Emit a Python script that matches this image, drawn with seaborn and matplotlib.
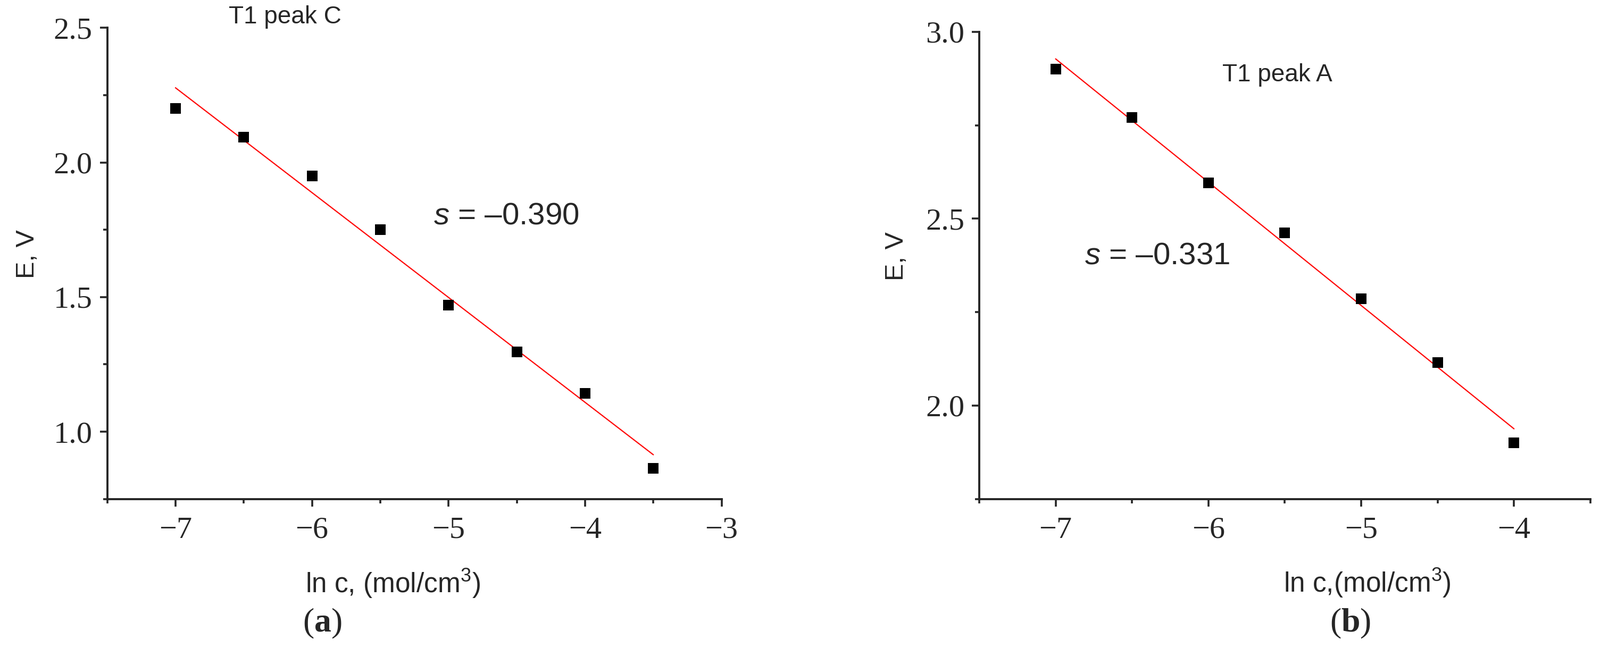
import matplotlib
matplotlib.use("Agg")
import matplotlib.pyplot as plt
from matplotlib.ticker import MultipleLocator, FormatStrFormatter
import pandas as pd
import seaborn as sns

# data
lnc_a = [-7.0, -6.5, -6.0, -5.5, -5.0, -4.5, -4.0, -3.5]
E_a = [2.20, 2.095, 1.95, 1.75, 1.47, 1.296, 1.142, 0.864]
lnc_b = [-7.0, -6.5, -6.0, -5.5, -5.0, -4.5, -4.0]
E_b = [2.90, 2.77, 2.595, 2.462, 2.286, 2.115, 1.90]
slope_a = "–0.390"
slope_b = "–0.331"

sns.set_style("ticks")
plt.rcParams["font.family"] = ["Liberation Sans", "DejaVu Sans"]
plt.rcParams["mathtext.fontset"] = "custom"
plt.rcParams["mathtext.rm"] = "Liberation Sans"
plt.rcParams["mathtext.it"] = "Liberation Sans:italic"
plt.rcParams["mathtext.bf"] = "Liberation Serif:bold"

fig = plt.figure(figsize=(15.04, 6.095), dpi=200)
ax_a = fig.add_axes([0.067, 0.230, 0.384, 0.727])
ax_b = fig.add_axes([0.612, 0.230, 0.382, 0.721])

df_a = pd.DataFrame({"lnc": lnc_a, "E": E_a})
df_b = pd.DataFrame({"lnc": lnc_b, "E": E_b})
serif = ["Liberation Serif", "DejaVu Serif"]


def panel(ax, df, xlim, ylim):
    sns.regplot(data=df, x="lnc", y="E", ax=ax, ci=None, marker="s",
                scatter_kws={"color": "black", "s": 50, "alpha": 1,
                             "linewidths": 0, "zorder": 3},
                line_kws={"color": "red", "lw": 0.8, "zorder": 2})
    ax.set_xlim(*xlim)
    ax.set_ylim(*ylim)
    ax.xaxis.set_major_locator(MultipleLocator(1))
    ax.xaxis.set_minor_locator(MultipleLocator(0.5))
    ax.yaxis.set_major_locator(MultipleLocator(0.5))
    ax.yaxis.set_minor_locator(MultipleLocator(0.25))
    ax.yaxis.set_major_formatter(FormatStrFormatter("%.1f"))
    sns.despine(ax=ax)
    for s in ["left", "bottom"]:
        ax.spines[s].set_linewidth(1.4)
    ax.tick_params(which="major", direction="out", length=5, width=1.3)
    ax.tick_params(which="minor", direction="out", length=2.8, width=1.3)
    ax.tick_params(axis="y", which="major", pad=5)
    ax.tick_params(axis="x", which="major", pad=7)
    ax.tick_params(labelsize=21)
    for lab in ax.get_xticklabels() + ax.get_yticklabels():
        lab.set_family(serif)
    ax.set_ylabel("E, V", fontsize=17.5)


panel(ax_a, df_a, (-7.5, -3), (0.75, 2.5))
panel(ax_b, df_b, (-7.5, -3.5), (1.75, 3.0))

ax_a.set_xlabel("ln c, (mol/cm$^{3}$)", fontsize=18.5)
ax_b.set_xlabel("ln c,(mol/cm$^{3}$)", fontsize=18.5)
ax_a.xaxis.set_label_coords(0.465, -0.145)
ax_b.xaxis.set_label_coords(0.635, -0.145)
ax_a.yaxis.set_label_coords(-0.11, 0.52)
ax_b.yaxis.set_label_coords(-0.116, 0.52)

ax_a.text(-6.61, 2.54, "T1 peak C", fontsize=16.5, va="center", clip_on=False)
ax_a.text(-5.11, 1.80, r"$\mathit{s}$ = " + slope_a, fontsize=21, va="center")
ax_b.text(-5.91, 2.885, "T1 peak A", fontsize=16.5, va="center")
ax_b.text(-6.81, 2.40, r"$\mathit{s}$ = " + slope_b, fontsize=21, va="center")

fig.text(0.2015, 0.038, r"($\mathbf{a}$)", fontsize=23, ha="center", va="center",
         family=serif)
fig.text(0.844, 0.038, r"($\mathbf{b}$)", fontsize=23, ha="center", va="center",
         family=serif)

fig.savefig("out.png", dpi=200, facecolor="white")
